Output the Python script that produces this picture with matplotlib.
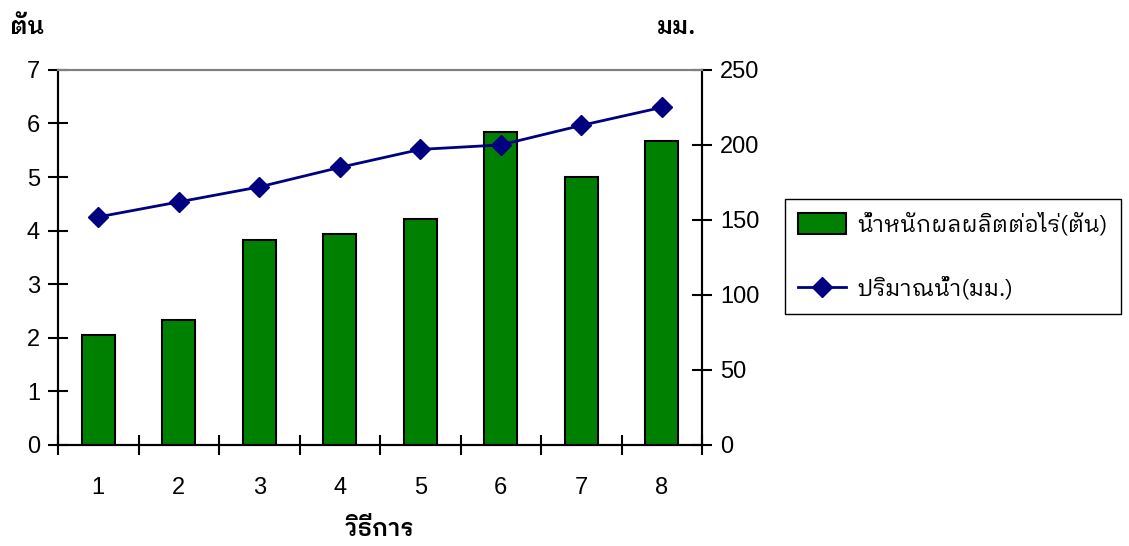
import numpy as np
import matplotlib
matplotlib.use('Agg')
import matplotlib.pyplot as plt
from matplotlib.patches import Patch
from matplotlib.lines import Line2D

# data
methods = ['1', '2', '3', '4', '5', '6', '7', '8']
yield_ton = [2.06, 2.34, 3.82, 3.94, 4.22, 5.84, 5.00, 5.68]
water_mm = [152, 162, 172, 185, 197, 200, 213, 225]

bar_label = 'น้ำหนักผลผลิตต่อไร่(ตัน)'
line_label = 'ปริมาณน้ำ(มม.)'

thai = ['IBM Plex Sans Thai Looped', 'Noto Sans Thai Looped', 'Liberation Sans', 'DejaVu Sans']
plt.rcParams['font.family'] = ['Liberation Sans', 'Noto Sans Thai Looped', 'DejaVu Sans']

fig = plt.figure(figsize=(11.29, 5.46), dpi=100)
ax = fig.add_axes([0.0514, 0.185, 0.5704, 0.687])
ax2 = ax.twinx()

x = np.arange(1, len(methods) + 1)
ax.bar(x, yield_ton, width=0.41, color='#008000', edgecolor='black', linewidth=1.5, zorder=2)
ax2.plot(x, water_mm, color='#000080', linewidth=2, marker='D', markersize=10, zorder=3)

ax.set_xlim(0.5, 8.5)
ax.set_ylim(0, 7)
ax2.set_ylim(0, 250)
ax.set_yticks(range(0, 8))
ax2.set_yticks(range(0, 251, 50))

# category ticks sit between the bars, labels centred under them
ax.set_xticks(np.arange(0.5, 9, 1))
ax.set_xticklabels([])
ax.set_xticks(x, minor=True)
ax.set_xticklabels(methods, minor=True)
ax.tick_params(axis='x', which='minor', length=0, pad=23, labelsize=17)
ax.tick_params(axis='x', which='major', direction='inout', length=14, width=1.5)
ax.tick_params(axis='y', direction='inout', length=14, width=1.5, labelsize=17, pad=6)
ax2.tick_params(axis='y', direction='inout', length=14, width=1.5, labelsize=17, pad=6)

for a in (ax, ax2):
    a.spines['top'].set_color('#808080')
    a.spines['top'].set_linewidth(1.5)
    for s in ('left', 'right', 'bottom'):
        a.spines[s].set_linewidth(1.5)

fig.text(0.009, 0.95, 'ตัน', family=thai, fontsize=17, fontweight='semibold', va='center')
fig.text(0.582, 0.95, 'มม.', family=thai, fontsize=17, fontweight='semibold', va='center')
fig.text(0.336, 0.03, 'วิธีการ', family=thai, fontsize=17, fontweight='semibold', ha='center', va='center')

handles = [Patch(facecolor='#008000', edgecolor='black', linewidth=1.5),
           Line2D([], [], color='#000080', linewidth=2, marker='D', markersize=10)]
fig.legend(handles, [bar_label, line_label], loc='center left',
           bbox_to_anchor=(0.695, 0.53), prop={'family': thai, 'size': 16.3},
           frameon=True, fancybox=False, edgecolor='black', framealpha=1,
           handlelength=2.1, handleheight=1.0, labelspacing=1.8, borderpad=0.6,
           handletextpad=0.5, borderaxespad=0)

fig.savefig('out.png')
